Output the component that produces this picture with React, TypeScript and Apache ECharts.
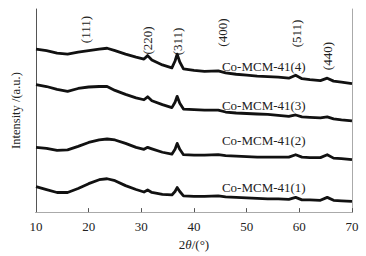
import React, { useEffect, useRef } from "react";
import * as echarts from "echarts";

const twoTheta = [10, 12, 14, 16, 18, 20, 22, 23.5, 25, 27, 29, 30.5, 31.2, 32, 34, 35.8, 36.4, 36.8, 37.3, 38, 40, 42, 44.6, 46, 48, 50, 52, 54, 56, 58, 59.3, 60.5, 62, 64, 65.3, 66.5, 68, 70];

const s1 = [26, 23, 20, 20, 24, 29, 33, 34, 32, 27, 23, 20.5, 22.5, 20, 18, 17.5, 21, 25, 21, 16.5, 16, 16, 16.5, 15.5, 15, 14.5, 14, 13.5, 13.5, 13, 15, 12.5, 12.5, 12, 15, 12, 11.5, 11];
const s2 = [66, 65, 63, 63.5, 67, 71, 73.5, 74.5, 73.5, 70, 66, 64, 66, 64.5, 61, 59, 64, 70, 64, 58.5, 58, 58, 58.5, 57.5, 57, 56.5, 56, 56, 56, 56, 58.5, 56, 55.5, 55.5, 58.5, 55, 54.5, 53.5];
const s3 = [130, 128, 125, 123, 126, 127.5, 128, 128, 124, 120, 116.5, 114.5, 117.5, 113.5, 109.5, 106.5, 112, 118, 111, 105, 104.5, 104, 104, 102, 101, 100.5, 100, 99.5, 98.5, 97.5, 99, 97, 96.5, 96, 97, 95, 94, 93];
const s4 = [166, 164.5, 162, 161, 163, 164.5, 166, 167, 164.5, 161, 158, 156, 159.5, 155, 150, 147, 154, 161, 153, 146, 144.5, 143.5, 144, 142, 140.5, 139.5, 138.5, 138, 137.5, 136.5, 139.5, 136, 135, 134, 136.5, 133.5, 132.5, 131];

const seriesNames = ["Co-MCM-41(1)", "Co-MCM-41(2)", "Co-MCM-41(3)", "Co-MCM-41(4)"];
const seriesValues = [s1, s2, s3, s4];
const seriesLabelPos: [number, number][] = [[45.3, 25], [45.3, 72.7], [45.3, 108.7], [45.3, 148]];

const peakLabels = ["(111)", "(220)", "(311)", "(400)", "(511)", "(440)"];
const peakX = [19.4, 31.2, 36.9, 45.5, 59.5, 65.4];
const peakY = [186, 175, 174, 183, 182, 159];

const xTicks = [10, 20, 30, 40, 50, 60, 70];

const FONT = "'Liberation Serif', 'DejaVu Serif', serif";

export default function App() {
  const ref = useRef<HTMLDivElement>(null);
  useEffect(() => {
    document.body.style.margin = "0";
    const chart = echarts.init(ref.current!, null, { renderer: "svg" });
    const option: any = {
      animation: false,
      backgroundColor: "#fff",
      grid: { left: 36, right: 14, top: 9, bottom: 40 },
      xAxis: [
        {
          type: "value",
          min: xTicks[0],
          max: xTicks[xTicks.length - 1],
          interval: 10,
          name: "2{i|θ}/(°)",
          nameLocation: "middle",
          nameGap: 22,
          nameTextStyle: {
            fontFamily: FONT,
            fontSize: 13,
            color: "#222",
            rich: { i: { fontFamily: FONT, fontSize: 13, fontStyle: "italic", color: "#222" } },
          },
          axisLine: { lineStyle: { color: "#555", width: 1 } },
          axisTick: { inside: true, length: 4, lineStyle: { color: "#555" } },
          axisLabel: { fontFamily: FONT, fontSize: 13, color: "#222", margin: 8 },
          splitLine: { show: false },
        },
        {
          type: "value",
          position: "top",
          min: 10,
          max: 70,
          axisLine: { show: true, lineStyle: { color: "#aaa" } },
          axisTick: { show: false },
          axisLabel: { show: false },
          splitLine: { show: false },
        },
      ],
      yAxis: [
        {
          type: "value",
          min: 0,
          max: 207,
          name: "Intensity /(a.u.)",
          nameLocation: "middle",
          nameGap: 14,
          nameTextStyle: { fontFamily: FONT, fontSize: 12.5, color: "#222" },
          axisLine: { show: true, lineStyle: { color: "#555" } },
          axisTick: { show: false },
          axisLabel: { show: false },
          splitLine: { show: false },
        },
        {
          type: "value",
          position: "right",
          min: 0,
          max: 207,
          axisLine: { show: true, lineStyle: { color: "#aaa" } },
          axisTick: { show: false },
          axisLabel: { show: false },
          splitLine: { show: false },
        },
      ],
      series: seriesValues.map((vals, i) => ({
        name: seriesNames[i],
        type: "line",
        data: twoTheta.map((x, j) => [x, vals[j]]),
        showSymbol: false,
        smooth: false,
        lineStyle: { color: "#111", width: 2.8, join: "round" },
      })),
    };
    chart.setOption(option);

    const graphics: any[] = [];
    peakLabels.forEach((t, i) => {
      const p = chart.convertToPixel({ gridIndex: 0 }, [peakX[i], peakY[i]]) as number[];
      graphics.push({
        type: "text",
        x: p[0],
        y: p[1],
        rotation: Math.PI / 2,
        style: { text: t, fontFamily: FONT, fontSize: 13, fill: "#222", align: "center", verticalAlign: "middle" },
      });
    });
    seriesNames.forEach((t, i) => {
      const p = chart.convertToPixel({ gridIndex: 0 }, seriesLabelPos[i]) as number[];
      graphics.push({
        type: "text",
        x: p[0],
        y: p[1],
        style: { text: t, fontFamily: FONT, fontSize: 13, fill: "#222", align: "left", verticalAlign: "middle" },
      });
    });
    chart.setOption({ graphic: graphics });

    return () => chart.dispose();
  }, []);
  return <div ref={ref} style={{ width: 366, height: 256 }} />;
}
